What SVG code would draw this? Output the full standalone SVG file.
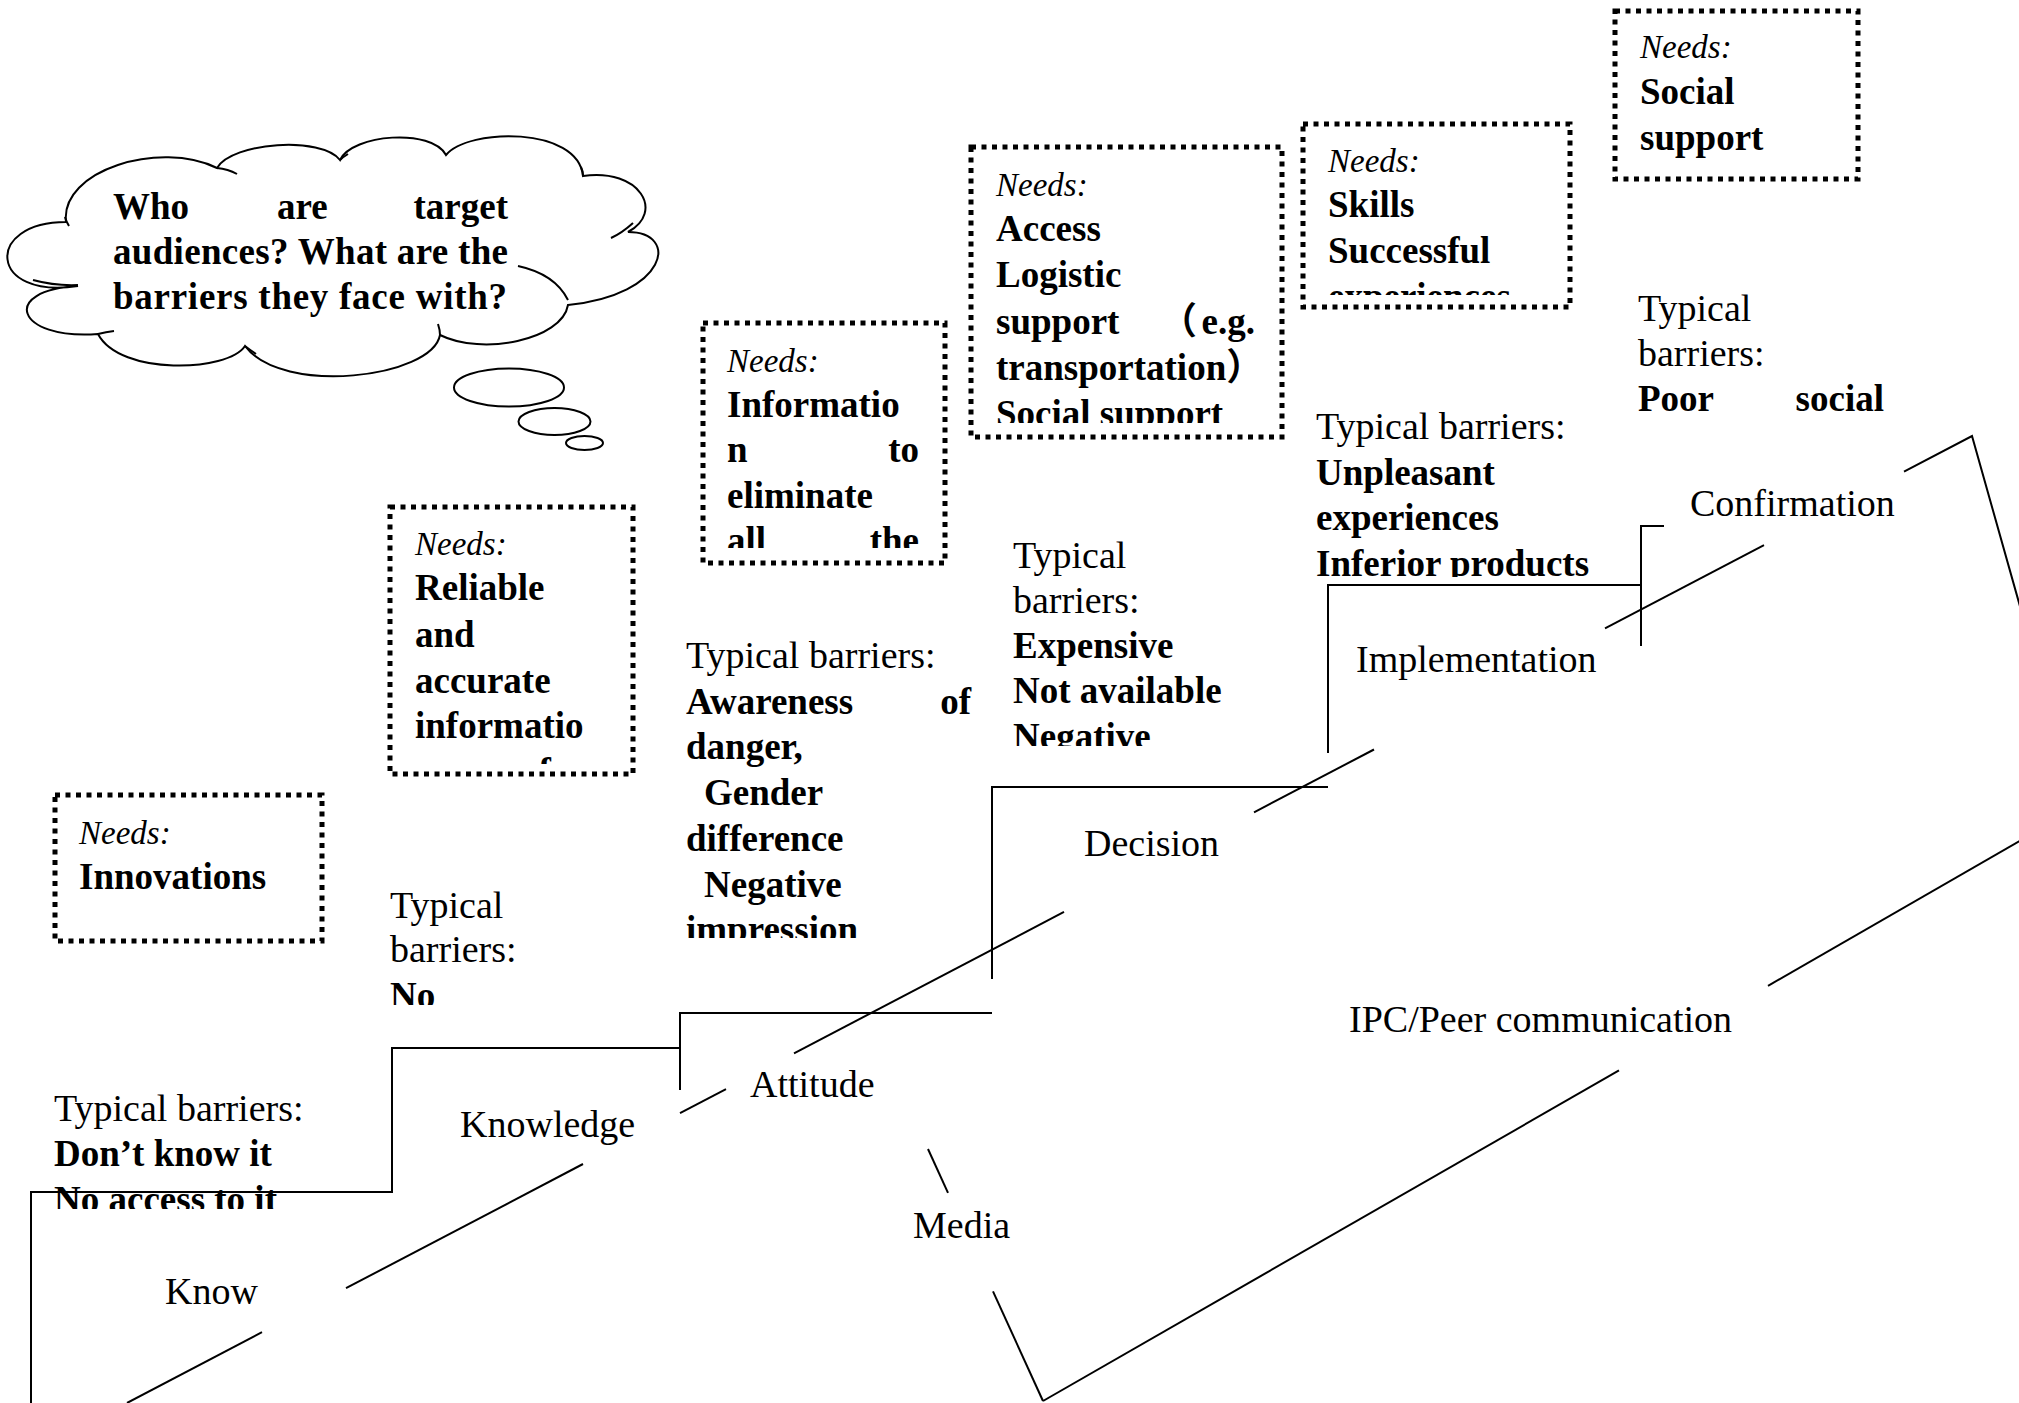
<svg xmlns="http://www.w3.org/2000/svg" width="2019" height="1403" viewBox="0 0 2019 1403">
<style>
  .t { font-family: "Liberation Serif", "Noto Sans CJK SC", serif; fill: #000; }
  .r { font-size: 38px; }
  .b { font-size: 37px; font-weight: bold; }
  .i { font-size: 33px; font-style: italic; }
  .box { fill: none; stroke: #000; stroke-width: 5; stroke-dasharray: 5 5.5; }
  .ln { fill: none; stroke: #000; stroke-width: 2; }
  .cl { fill: #fff; stroke: #000; stroke-width: 2; }
</style>
<defs>
  <clipPath id="c-skills"><rect x="1303" y="124" width="267" height="171"/></clipPath>
  <clipPath id="c-access"><rect x="971" y="147" width="311" height="276"/></clipPath>
  <clipPath id="c-info"><rect x="703" y="323" width="242" height="225"/></clipPath>
  <clipPath id="c-reliable"><rect x="390" y="507" width="243" height="257"/></clipPath>
  <clipPath id="c-a"><rect x="0" y="1080" width="380" height="129"/></clipPath>
  <clipPath id="c-b"><rect x="380" y="880" width="200" height="125"/></clipPath>
  <clipPath id="c-c"><rect x="680" y="630" width="300" height="308"/></clipPath>
  <clipPath id="c-d"><rect x="1005" y="530" width="280" height="216"/></clipPath>
  <clipPath id="c-e"><rect x="1310" y="400" width="300" height="177"/></clipPath>
</defs>
<rect width="2019" height="1403" fill="#fff"/>

<g id="connectors" class="ln">
  <!-- staircase -->
  <path d="M31,1403 V1192 H392 V1048 H680"/>
  <path d="M680,1090 V1013 H992"/>
  <path d="M992,979 V787 H1328"/>
  <path d="M1328,753 V585 H1641"/>
  <path d="M1641,646 V526 H1664"/>
  <!-- upper diagonal (with gaps for labels) -->
  <path d="M127,1403 L262,1332.2"/>
  <path d="M346,1288.2 L583,1164"/>
  <path d="M680,1113.2 L726,1089.1"/>
  <path d="M794,1053.4 L1064,911.9"/>
  <path d="M1254,812.3 L1374,749.5"/>
  <path d="M1605,628.4 L1764,545.1"/>
  <path d="M1904,471.7 L1972,436 L2025,624"/>
  <!-- lower diagonal -->
  <path d="M1043,1401 L1619,1070.4"/>
  <path d="M1768,985.8 L2025,838"/>
  <!-- media line -->
  <path d="M928,1149 L948,1192.8"/>
  <path d="M993,1291.4 L1043,1401"/>
</g>

<g id="cloud">
  <path class="cl" d="M78,286 C-12,300 -16,222 66,222 C60,170 160,140 217,168 C232,142 322,136 340,160 C352,134 432,128 446,155 C468,128 578,126 583,176 C640,168 665,212 628,232 C680,232 668,295 568,305 C562,340 482,356 440,335 C432,378 282,396 245,346 C228,372 120,376 98,334 C15,340 0,290 78,286 Z"/>
  <g class="ln">
    <path d="M33,280 Q55,286 78,285"/>
    <path d="M69,226 Q66,221 65,217"/>
    <path d="M217,168 Q228,169 237,174"/>
    <path d="M340,160 Q343,157 348,154"/>
    <path d="M583,176 Q583,171 581,167"/>
    <path d="M611,238 Q622,233 633,223"/>
    <path d="M518,266 Q555,274 568,300"/>
    <path d="M440,335 Q440,330 438,324"/>
    <path d="M245,346 Q250,350 256,354"/>
    <path d="M98,334 Q106,332 114,331"/>
  </g>
  <ellipse class="cl" cx="509" cy="387.5" rx="55" ry="19"/>
  <ellipse class="cl" cx="554.5" cy="421.5" rx="36" ry="13.5"/>
  <ellipse class="cl" cx="584.5" cy="443" rx="18.5" ry="7"/>
  <g class="t b">
    <text x="113" y="219">Who</text>
    <text x="277" y="219">are</text>
    <text x="508" y="219" text-anchor="end">target</text>
    <text x="113" y="264" textLength="395" lengthAdjust="spacing">audiences? What are the</text>
    <text x="113" y="309" textLength="394" lengthAdjust="spacing">barriers they face with?</text>
  </g>
</g>

<g id="needs-innovations">
  <rect class="box" x="55" y="795" width="267" height="146"/>
  <text class="t i" x="79" y="844">Needs:</text>
  <text class="t b" x="79" y="889">Innovations</text>
</g>

<g id="needs-reliable">
  <rect class="box" x="390" y="507" width="243" height="267"/>
  <g clip-path="url(#c-reliable)">
    <text class="t i" x="415" y="555">Needs:</text>
    <text class="t b" x="415" y="600">Reliable</text>
    <text class="t b" x="415" y="647">and</text>
    <text class="t b" x="415" y="693">accurate</text>
    <text class="t b" x="415" y="738">informatio</text>
    <text class="t b" x="415" y="784">n</text>
    <text class="t b" x="520" y="784">of</text>
  </g>
</g>

<g id="needs-information">
  <rect class="box" x="703" y="323" width="242" height="240"/>
  <g clip-path="url(#c-info)">
    <text class="t i" x="727" y="372">Needs:</text>
    <text class="t b" x="727" y="417">Informatio</text>
    <text class="t b" x="727" y="462">n</text>
    <text class="t b" x="919" y="462" text-anchor="end">to</text>
    <text class="t b" x="727" y="508">eliminate</text>
    <text class="t b" x="727" y="553">all</text>
    <text class="t b" x="919" y="553" text-anchor="end">the</text>
  </g>
</g>

<g id="needs-access">
  <rect class="box" x="971" y="147" width="311" height="290"/>
  <g clip-path="url(#c-access)">
    <text class="t i" x="996" y="196">Needs:</text>
    <text class="t b" x="996" y="241">Access</text>
    <text class="t b" x="996" y="287">Logistic</text>
    <text class="t b" x="996" y="334">support</text>
    <text class="t b" x="1160" y="334">（</text>
    <text class="t b" x="1255" y="334" text-anchor="end">e.g.</text>
    <text class="t b" x="996" y="380">transportation）</text>
    <text class="t b" x="996" y="426">Social support</text>
  </g>
</g>

<g id="needs-skills">
  <rect class="box" x="1303" y="124" width="267" height="183"/>
  <g clip-path="url(#c-skills)">
    <text class="t i" x="1328" y="172">Needs:</text>
    <text class="t b" x="1328" y="217">Skills</text>
    <text class="t b" x="1328" y="263">Successful</text>
    <text class="t b" x="1328" y="309">experiences</text>
  </g>
</g>

<g id="needs-social">
  <rect class="box" x="1615" y="11" width="243" height="168"/>
  <text class="t i" x="1640" y="58">Needs:</text>
  <text class="t b" x="1640" y="104">Social</text>
  <text class="t b" x="1640" y="150">support</text>
</g>

<g id="barriers-know" clip-path="url(#c-a)">
  <text class="t r" x="54" y="1121">Typical barriers:</text>
  <text class="t b" x="54" y="1166">Don’t know it</text>
  <text class="t b" x="54" y="1212">No access to it</text>
</g>

<g id="barriers-knowledge" clip-path="url(#c-b)">
  <text class="t r" x="390" y="918">Typical</text>
  <text class="t r" x="390" y="962">barriers:</text>
  <text class="t b" x="390" y="1008">No</text>
</g>

<g id="barriers-attitude" clip-path="url(#c-c)">
  <text class="t r" x="686" y="668">Typical barriers:</text>
  <text class="t b" x="686" y="714">Awareness</text>
  <text class="t b" x="971" y="714" text-anchor="end">of</text>
  <text class="t b" x="686" y="759">danger,</text>
  <text class="t b" x="704" y="805">Gender</text>
  <text class="t b" x="686" y="851">difference</text>
  <text class="t b" x="704" y="897">Negative</text>
  <text class="t b" x="686" y="942">impression</text>
</g>

<g id="barriers-decision" clip-path="url(#c-d)">
  <text class="t r" x="1013" y="568">Typical</text>
  <text class="t r" x="1013" y="613">barriers:</text>
  <text class="t b" x="1013" y="658">Expensive</text>
  <text class="t b" x="1013" y="703">Not available</text>
  <text class="t b" x="1013" y="749">Negative</text>
</g>

<g id="barriers-implementation" clip-path="url(#c-e)">
  <text class="t r" x="1316" y="439">Typical barriers:</text>
  <text class="t b" x="1316" y="485">Unpleasant</text>
  <text class="t b" x="1316" y="530">experiences</text>
  <text class="t b" x="1316" y="576">Inferior products</text>
</g>

<g id="barriers-confirmation">
  <text class="t r" x="1638" y="321">Typical</text>
  <text class="t r" x="1638" y="366">barriers:</text>
  <text class="t b" x="1638" y="411">Poor</text>
  <text class="t b" x="1884" y="411" text-anchor="end">social</text>
</g>

<g id="stage-know"><text class="t r" x="165" y="1304">Know</text></g>
<g id="stage-knowledge"><text class="t r" x="460" y="1137">Knowledge</text></g>
<g id="stage-attitude"><text class="t r" x="750" y="1097">Attitude</text></g>
<g id="stage-media"><text class="t r" x="913" y="1238">Media</text></g>
<g id="stage-decision"><text class="t r" x="1084" y="856">Decision</text></g>
<g id="stage-ipc"><text class="t r" x="1349" y="1032">IPC/Peer communication</text></g>
<g id="stage-implementation"><text class="t r" x="1356" y="672">Implementation</text></g>
<g id="stage-confirmation"><text class="t r" x="1690" y="516">Confirmation</text></g>
</svg>
